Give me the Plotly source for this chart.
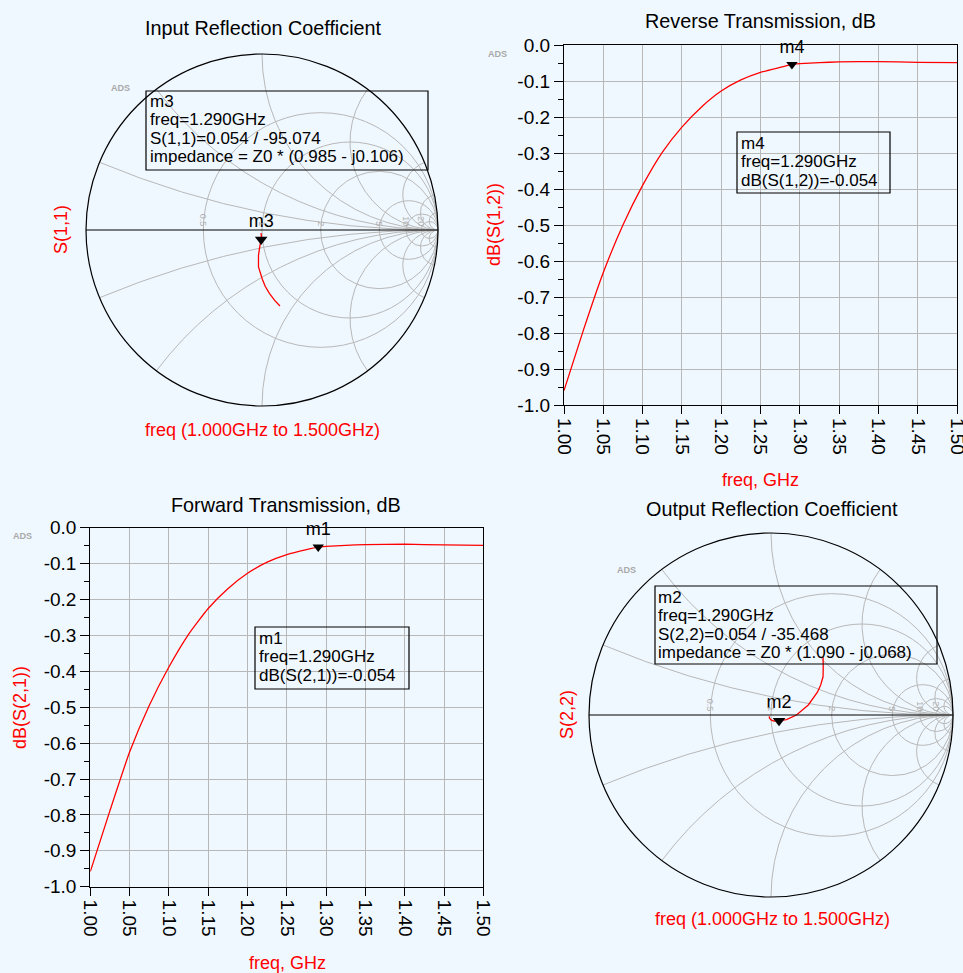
import numpy as np
import plotly.graph_objects as go

W, H = 963, 973


def px(x):
    return x / W


def py(y):
    return 1 - y / H


# ---------------- data ----------------
freq_ghz = [1.00, 1.025, 1.05, 1.075, 1.10, 1.125, 1.15, 1.175, 1.20, 1.225,
            1.25, 1.275, 1.29, 1.30, 1.325, 1.35, 1.40, 1.45, 1.50]
s12_db = [-0.960, -0.790, -0.632, -0.500, -0.390, -0.298, -0.228, -0.172, -0.128,
          -0.097, -0.076, -0.062, -0.054, -0.052, -0.049, -0.047, -0.046, -0.048, -0.049]
s21_db = [-0.958, -0.788, -0.625, -0.495, -0.388, -0.297, -0.225, -0.170, -0.127,
          -0.096, -0.075, -0.061, -0.054, -0.052, -0.049, -0.047, -0.046, -0.048, -0.049]

smith_freq_ghz = [1.00, 1.025, 1.05, 1.075, 1.10, 1.15, 1.20, 1.25, 1.29, 1.35, 1.40, 1.45, 1.50]
s11_re = [0.102, 0.072, 0.042, 0.018, 0.002, -0.020, -0.020, -0.012, -0.0047, -0.004, -0.004, -0.005, -0.005]
s11_im = [-0.432, -0.400, -0.360, -0.320, -0.280, -0.210, -0.144, -0.090, -0.0538, -0.040, -0.030, -0.022, -0.017]
s22_re = [0.286, 0.287, 0.286, 0.273, 0.255, 0.205, 0.140, 0.085, 0.044, 0.015, 0.000, -0.008, -0.010]
s22_im = [0.319, 0.268, 0.210, 0.165, 0.125, 0.055, 0.000, -0.025, -0.031, -0.033, -0.027, -0.018, -0.008]

marker_freq = 1.29
m1_db = -0.054
m4_db = -0.054
m3_z = (0.985, -0.106)
m2_z = (1.090, -0.068)

y_tickvals = [0.0, -0.1, -0.2, -0.3, -0.4, -0.5, -0.6, -0.7, -0.8, -0.9, -1.0]
y_ticktext = ["0.0", "-0.1", "-0.2", "-0.3", "-0.4", "-0.5", "-0.6", "-0.7", "-0.8", "-0.9", "-1.0"]
y_minor = [-0.05, -0.15, -0.25, -0.35, -0.45, -0.55, -0.65, -0.75, -0.85, -0.95]
x_tickvals = [1.00, 1.05, 1.10, 1.15, 1.20, 1.25, 1.30, 1.35, 1.40, 1.45, 1.50]
x_ticktext = ["1.00", "1.05", "1.10", "1.15", "1.20", "1.25", "1.30", "1.35", "1.40", "1.45", "1.50"]
smith_r_ticks = [0.5, 1.0, 2.0, 5.0, 10.0, 20.0]
smith_x_ticks = [-20.0, -10.0, -5.0, -2.0, -1.0, -0.5, -0.2, 0.2, 0.5, 1.0, 2.0, 5.0, 10.0, 20.0]


def gamma_to_z(re, im):
    g = np.array(re) + 1j * np.array(im)
    z = (1 + g) / (1 - g)
    return z.real, z.imag


FONT = "Arial, 'Liberation Sans', sans-serif"
BG = "#F0F8FF"
GRID = "#b8b8b8"
RED = "#ff0000"

fig = go.Figure()

# Smith 1 : S(1,1)
z11r, z11i = gamma_to_z(s11_re, s11_im)
fig.add_trace(go.Scattersmith(real=z11r, imag=z11i, mode="lines",
                              line=dict(color=RED, width=1.3), subplot="smith"))
fig.add_trace(go.Scattersmith(real=[m3_z[0]], imag=[m3_z[1]], mode="markers+text",
                              marker=dict(symbol="triangle-down", size=11, color="black"),
                              text=["m3"], textposition="top center",
                              textfont=dict(size=18, color="black", family=FONT),
                              subplot="smith"))

# Smith 2 : S(2,2)
z22r, z22i = gamma_to_z(s22_re, s22_im)
fig.add_trace(go.Scattersmith(real=z22r, imag=z22i, mode="lines",
                              line=dict(color=RED, width=1.3), subplot="smith2"))
fig.add_trace(go.Scattersmith(real=[m2_z[0]], imag=[m2_z[1]], mode="markers+text",
                              marker=dict(symbol="triangle-down", size=11, color="black"),
                              text=["m2"], textposition="top center",
                              textfont=dict(size=18, color="black", family=FONT),
                              subplot="smith2"))

# Cartesian: S(1,2) top right
fig.add_trace(go.Scatter(x=freq_ghz, y=s12_db, mode="lines",
                         line=dict(color=RED, width=1.3, shape="spline", smoothing=0.5),
                         xaxis="x", yaxis="y"))
fig.add_trace(go.Scatter(x=[marker_freq], y=[m4_db], mode="markers+text",
                         marker=dict(symbol="triangle-down", size=10, color="black"),
                         text=["m4"], textposition="top center", cliponaxis=False,
                         textfont=dict(size=18, color="black", family=FONT),
                         xaxis="x", yaxis="y"))
# Cartesian: S(2,1) bottom left
fig.add_trace(go.Scatter(x=freq_ghz, y=s21_db, mode="lines",
                         line=dict(color=RED, width=1.3, shape="spline", smoothing=0.5),
                         xaxis="x2", yaxis="y2"))
fig.add_trace(go.Scatter(x=[marker_freq], y=[m1_db], mode="markers+text",
                         marker=dict(symbol="triangle-down", size=10, color="black"),
                         text=["m1"], textposition="top center", cliponaxis=False,
                         textfont=dict(size=18, color="black", family=FONT),
                         xaxis="x2", yaxis="y2"))


def xaxis_cfg(domain, anchor):
    return dict(domain=domain, anchor=anchor, range=[1.0, 1.5], tickmode="array",
                tickvals=x_tickvals, ticktext=x_ticktext, tickangle=90, automargin=False,
                ticklabeloverflow="allow",
                ticks="outside", ticklen=8, tickcolor="black", tickwidth=1,
                showgrid=True, gridcolor=GRID, gridwidth=1, zeroline=False,
                showline=True, linecolor="black", linewidth=1.2, mirror=True,
                tickfont=dict(size=19, color="black", family=FONT))


def yaxis_cfg(domain, anchor):
    return dict(domain=domain, anchor=anchor, range=[-1.0, 0.0], tickmode="array",
                tickvals=y_tickvals, ticktext=y_ticktext, automargin=False,
                ticklabeloverflow="allow",
                ticks="outside", ticklen=9, tickcolor="black", tickwidth=1,
                minor=dict(tickmode="array", tickvals=y_minor, ticks="outside", ticklen=5,
                           tickcolor="black", showgrid=False),
                showgrid=True, gridcolor=GRID, gridwidth=1, zeroline=False,
                showline=True, linecolor="black", linewidth=1.2, mirror=True,
                tickfont=dict(size=19, color="black", family=FONT))


def smith_cfg(x0, x1, y0, y1):
    return dict(domain=dict(x=[px(x0), px(x1)], y=[py(y1), py(y0)]),
                bgcolor="rgba(0,0,0,0)",
                realaxis=dict(tickvals=smith_r_ticks, gridcolor=GRID, gridwidth=1,
                              linecolor="black", linewidth=1.2, showticklabels=True,
                              ticks="", tickfont=dict(size=9, color="#b0b0b0", family=FONT)),
                imaginaryaxis=dict(tickvals=smith_x_ticks, gridcolor=GRID, gridwidth=1,
                                   linecolor="black", linewidth=1.2, showticklabels=False,
                                   ticks=""))


annotations = []


def text(x, y, s, size=18, color="black", angle=0, xanchor="center"):
    annotations.append(dict(x=px(x), y=py(y), xref="paper", yref="paper", text=s,
                            showarrow=False, xanchor=xanchor, yanchor="middle",
                            textangle=angle, borderpad=0,
                            font=dict(size=size, color=color, family=FONT)))


# titles
text(263, 28, "Input Reflection Coefficient", 19.8)
text(760, 21, "Reverse Transmission, dB", 19.8)
text(286, 505, "Forward Transmission, dB", 19.8)
text(772, 509, "Output Reflection Coefficient", 19.8)
# axis titles
text(61, 230, "S(1,1)", 18, RED, -90)
text(262, 430, "freq (1.000GHz to 1.500GHz)", 18, RED)
text(494, 225, "dB(S(1,2))", 18, RED, -90)
text(760, 480, "freq, GHz", 18, RED)
text(20, 708, "dB(S(2,1))", 18, RED, -90)
text(287, 963, "freq, GHz", 18, RED)
text(567, 715, "S(2,2)", 18, RED, -90)
text(772, 919, "freq (1.000GHz to 1.500GHz)", 18, RED)
# ADS tags
for (ax, ay) in [(120, 88), (497, 54), (22, 536), (626, 570)]:
    text(ax, ay, "<b>ADS</b>", 9, "#a8a8a8")

# marker readout boxes
boxes = [
    ((146, 91, 428, 170), 148.5, [101.5, 120, 138.5, 157],
     ["m3", "freq=1.290GHz", "S(1,1)=0.054 / -95.074", "impedance = Z0 * (0.985 - j0.106)"]),
    ((737, 132, 890, 193), 739.5, [143.3, 161.7, 180.2],
     ["m4", "freq=1.290GHz", "dB(S(1,2))=-0.054"]),
    ((255, 627, 409, 689), 258.3, [638.3, 656.7, 675],
     ["m1", "freq=1.290GHz", "dB(S(2,1))=-0.054"]),
    ((655, 586, 937, 664), 657.3, [597, 615.5, 634, 652.5],
     ["m2", "freq=1.290GHz", "S(2,2)=0.054 / -35.468", "impedance = Z0 * (1.090 - j0.068)"]),
]
shapes = []
for (bx0, by0, bx1, by1), tx, tys, lines in boxes:
    shapes.append(dict(type="rect", xref="paper", yref="paper",
                       x0=px(bx0), x1=px(bx1), y0=py(by1), y1=py(by0),
                       line=dict(color="black", width=1.2)))
    for ty, s in zip(tys, lines):
        text(tx, ty, s, 17, "black", xanchor="left")

fig.update_layout(
    width=W, height=H, margin=dict(l=0, r=0, t=0, b=0, pad=0, autoexpand=False),
    paper_bgcolor=BG, plot_bgcolor=BG, showlegend=False,
    font=dict(family=FONT, size=18, color="black"),
    xaxis=xaxis_cfg([px(564), px(957)], "y"),
    yaxis=yaxis_cfg([py(405), py(45)], "x"),
    xaxis2=xaxis_cfg([px(90.3), px(483.3)], "y2"),
    yaxis2=yaxis_cfg([py(886.7), py(527.7)], "x2"),
    smith=smith_cfg(86, 438, 54, 406),
    smith2=smith_cfg(589, 953, 533, 897),
    annotations=annotations, shapes=shapes, hovermode=False,
)

fig.write_html("out.html", config={"displayModeBar": False},
               post_script="document.body.style.margin='0px';"
                           "document.body.style.overflow='hidden';"
                           "document.body.style.background='" + BG + "';")
